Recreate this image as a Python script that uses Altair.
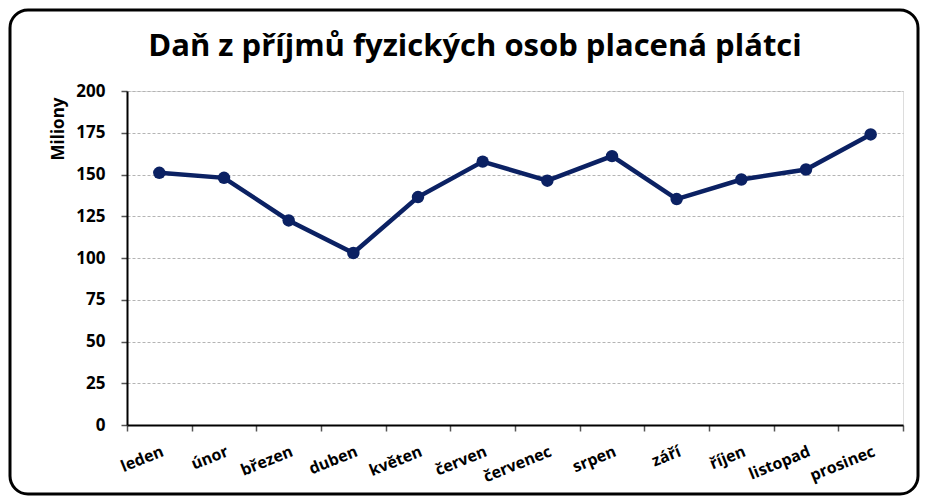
import altair as alt
import pandas as pd

months = ["leden", "únor", "březen", "duben", "květen", "červen",
          "červenec", "srpen", "září", "říjen", "listopad", "prosinec"]
values = [151, 148, 122.5, 103, 136.5, 157.7, 146.3, 161, 135.3, 147, 153, 174]
y_ticks = [0, 25, 50, 75, 100, 125, 150, 175, 200]

title_text = "Daň z příjmů fyzických osob placená plátci"
y_title = "Miliony"

df = pd.DataFrame({"mesic": months, "hodnota": values})

W, H = 776, 334
PL, PT, PR, PB = 119, 83, 17, 71
FONT = "Open Sans"

x_enc = alt.X("mesic:N", sort=months, bandPosition=0.5,
              scale=alt.Scale(type="band", paddingInner=0, paddingOuter=0),
              axis=alt.Axis(title=None, labelAngle=-22, labelAlign="right",
                            labelBaseline="top", labelPadding=12,
                            tickBand="extent", tickSize=6, tickColor="#555555",
                            tickWidth=1.5, domainColor="#000000", domainWidth=2,
                            labelFont=FONT, labelFontSize=16,
                            labelFontWeight="bold", labelColor="#000000",
                            grid=False))
y_enc = alt.Y("hodnota:Q", scale=alt.Scale(domain=[0, 200], nice=False),
              axis=alt.Axis(values=y_ticks, title=y_title, titleFont=FONT,
                            titleFontSize=17, titleFontWeight="bold",
                            titleColor="#000000", titleAngle=-90,
                            titleAlign="right", titleBaseline="middle",
                            titleX=-69, titleY=6,
                            tickSize=6, tickColor="#555555", tickWidth=1.5,
                            labelPadding=16, labelFont=FONT,
                            labelFontSize=17, labelFontWeight="bold",
                            labelColor="#000000",
                            domainColor="#000000", domainWidth=2,
                            grid=True, gridColor="#b4b4b4", gridDash=[3, 2],
                            gridWidth=1))

line = alt.Chart(df).mark_line(
    color="#0b2163", strokeWidth=4.5,
    point=alt.OverlayMarkDef(filled=True, size=155, color="#0b2163", opacity=1)
).encode(x=x_enc, y=y_enc)

frame = alt.Chart(pd.DataFrame({"a": [0]})).mark_rect(
    filled=False, stroke="#000000", strokeWidth=3, cornerRadius=18
).encode(
    x=alt.value(-PL + 2), x2=alt.value(W + PR - 2),
    y=alt.value(-PT + 2), y2=alt.value(H + PB - 2)
)

title = alt.Chart(pd.DataFrame({"t": [title_text]})).mark_text(
    font=FONT, fontSize=31, fontWeight="bold", color="#000000",
    align="center", baseline="middle"
).encode(text="t:N", x=alt.value(348), y=alt.value(-44))

chart = alt.layer(line, frame, title).properties(
    width=W, height=H,
    autosize=alt.AutoSizeParams(type="none"),
    padding={"left": PL, "top": PT, "right": PR, "bottom": PB},
).configure_view(stroke=None).configure(background="white")

chart.save("out.html", embed_options={"renderer": "svg", "actions": False})
